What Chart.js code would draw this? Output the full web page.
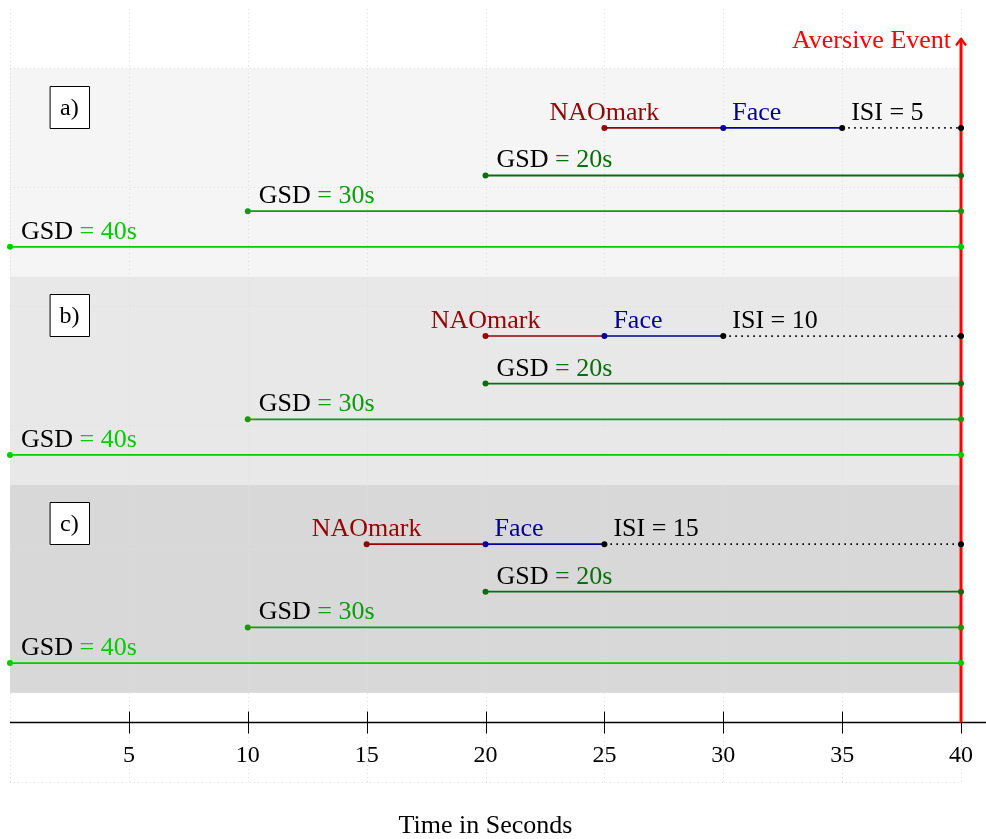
<!DOCTYPE html>
<html><head><meta charset="utf-8">
<script src="https://cdn.jsdelivr.net/npm/chart.js@4/dist/chart.umd.min.js"></script>
<style>html,body{margin:0;padding:0;background:#fff;overflow:hidden}</style>
</head><body>
<canvas id="c" width="986" height="839"></canvas>
<script>
// ---- data ----
const panelLabels = ['a)', 'b)', 'c)'];
const naoStart = [25, 20, 15];
const faceStart = [30, 25, 20];
const isiStart = [35, 30, 25];
const isiValues = [5, 10, 15];
const eventTime = 40;
const gsdValues = [20, 30, 40];
const gsdStart = [20, 10, 0];
const tickValues = [5, 10, 15, 20, 25, 30, 35, 40];
const axisTitle = 'Time in Seconds';
const eventLabel = 'Aversive Event';

// ---- layout / style ----
const bandBottoms = [21.25, 12.5, 3.75];
const BAND_H = 8.75;
const bandColors = ['#f5f5f5', '#e8e8e8', '#d8d8d8'];
const trialOffset = 6.25;
const gsdOffsets = [4.25, 2.75, 1.25];
const gsdColors = ['#0a6e0a', '#0c9c0c', '#00cc00'];
const naoColor = '#990000', faceColor = '#000099', isiColor = '#000000';
const AXIS_Y = 2.5, EVENT_TOP = 31.25;
const FONT = '"Liberation Serif", "Times New Roman", serif';
const TXT = '26px ' + FONT, NUM = '24px ' + FONT;

const datasets = [];
datasets.push({
  data: [{x: eventTime, y: AXIS_Y}, {x: eventTime, y: EVENT_TOP}],
  borderColor: '#ff0000', borderWidth: 3, pointRadius: 0, order: 100, clip: false
});
for (let p = 0; p < 3; p++) {
  const y = bandBottoms[p] + trialOffset;
  datasets.push({data: [{x: naoStart[p], y}, {x: faceStart[p], y}], borderColor: naoColor,
    backgroundColor: naoColor, pointBackgroundColor: naoColor, pointBorderWidth: 0,
    borderWidth: 1.6, pointRadius: [3, 0], order: 2, clip: false});
  datasets.push({data: [{x: faceStart[p], y}, {x: isiStart[p], y}], borderColor: faceColor,
    backgroundColor: faceColor, pointBackgroundColor: faceColor, pointBorderWidth: 0,
    borderWidth: 1.6, pointRadius: [3, 0], order: 1, clip: false});
  datasets.push({data: [{x: isiStart[p], y}, {x: eventTime, y}], borderColor: isiColor,
    backgroundColor: isiColor, pointBackgroundColor: isiColor, pointBorderWidth: 0,
    borderWidth: 1.8, borderDash: [1.6, 4.4], pointRadius: 3, order: 0, clip: false});
  for (let g = 0; g < gsdValues.length; g++) {
    const yg = bandBottoms[p] + gsdOffsets[g];
    datasets.push({data: [{x: gsdStart[g], y: yg}, {x: eventTime, y: yg}], borderColor: gsdColors[g],
      backgroundColor: gsdColors[g], pointBackgroundColor: gsdColors[g], pointBorderWidth: 0,
      borderWidth: 1.8, pointRadius: 3, order: 3, clip: false});
  }
}

function drawParts(ctx, parts, x, y) {
  let cx = x;
  for (const part of parts) {
    ctx.fillStyle = part.c;
    ctx.fillText(part.t, cx, y);
    cx += ctx.measureText(part.t).width;
  }
}

const deco = {
  id: 'deco',
  beforeDatasetsDraw(chart) {
    const ctx = chart.ctx, xs = chart.scales.x, ys = chart.scales.y;
    ctx.save();
    for (let p = 0; p < 3; p++) {
      const top = ys.getPixelForValue(bandBottoms[p] + BAND_H);
      const bot = ys.getPixelForValue(bandBottoms[p]);
      ctx.fillStyle = bandColors[p];
      ctx.fillRect(xs.getPixelForValue(0), top, xs.getPixelForValue(40) - xs.getPixelForValue(0), bot - top);
    }
    ctx.strokeStyle = '#dedede';
    ctx.lineWidth = 1;
    ctx.setLineDash([1, 3]);
    for (let v = 0; v <= 40; v += 5) {
      const px = Math.round(xs.getPixelForValue(v)) + 0.5;
      ctx.beginPath(); ctx.moveTo(px, ys.getPixelForValue(32.5)); ctx.lineTo(px, ys.getPixelForValue(0)); ctx.stroke();
    }
    for (let v = 0; v <= 30; v += 5) {
      const py = Math.round(ys.getPixelForValue(v)) + 0.5;
      ctx.beginPath(); ctx.moveTo(xs.getPixelForValue(0), py); ctx.lineTo(xs.getPixelForValue(40), py); ctx.stroke();
    }
    ctx.setLineDash([]);
    const ay = ys.getPixelForValue(AXIS_Y);
    ctx.strokeStyle = '#000';
    ctx.lineWidth = 1.5;
    ctx.beginPath(); ctx.moveTo(xs.getPixelForValue(0), ay); ctx.lineTo(chart.width, ay); ctx.stroke();
    ctx.lineWidth = 1;
    for (const t of tickValues) {
      const px = Math.round(xs.getPixelForValue(t)) + 0.5;
      ctx.beginPath(); ctx.moveTo(px, ay - 11); ctx.lineTo(px, ay + 11); ctx.stroke();
    }
    ctx.restore();
  },
  afterDatasetsDraw(chart) {
    const ctx = chart.ctx, xs = chart.scales.x, ys = chart.scales.y;
    ctx.save();
    const ex = xs.getPixelForValue(eventTime), ey = ys.getPixelForValue(EVENT_TOP);
    ctx.strokeStyle = '#ff0000'; ctx.lineWidth = 2.2; ctx.lineCap = 'round'; ctx.lineJoin = 'round';
    ctx.beginPath(); ctx.moveTo(ex - 4.5, ey + 6); ctx.lineTo(ex, ey); ctx.lineTo(ex + 4.5, ey + 6); ctx.stroke();
    ctx.font = TXT;
    ctx.textBaseline = 'alphabetic';
    ctx.fillStyle = '#ff0000'; ctx.textAlign = 'right';
    ctx.fillText(eventLabel, ex - 10, ey + 9);
    for (let p = 0; p < 3; p++) {
      ctx.font = TXT;
      const y = ys.getPixelForValue(bandBottoms[p] + trialOffset) - 8;
      ctx.textAlign = 'center'; ctx.fillStyle = naoColor;
      ctx.fillText('NAOmark', xs.getPixelForValue(naoStart[p]), y);
      ctx.textAlign = 'left'; ctx.fillStyle = faceColor;
      ctx.fillText('Face', xs.getPixelForValue(faceStart[p]) + 9, y);
      ctx.fillStyle = '#000';
      ctx.fillText('ISI = ' + isiValues[p], xs.getPixelForValue(isiStart[p]) + 9, y);
      for (let g = 0; g < gsdValues.length; g++) {
        const yg = ys.getPixelForValue(bandBottoms[p] + gsdOffsets[g]) - 8;
        drawParts(ctx, [{t: 'GSD ', c: '#000'}, {t: '= ' + gsdValues[g] + 's', c: gsdColors[g]}],
          xs.getPixelForValue(gsdStart[g]) + 11, yg);
      }
      const cx = xs.getPixelForValue(2.5), cy = ys.getPixelForValue(bandBottoms[p] + BAND_H - 1.6);
      const bx = Math.round(cx - 19.5) + 0.5, by = Math.round(cy - 21) + 0.5;
      ctx.fillStyle = '#fff'; ctx.fillRect(bx, by, 39, 42);
      ctx.strokeStyle = '#000'; ctx.lineWidth = 1; ctx.strokeRect(bx, by, 39, 42);
      ctx.fillStyle = '#000'; ctx.textAlign = 'center'; ctx.font = NUM;
      ctx.fillText(panelLabels[p], cx, cy + 8);
    }
    const ay = ys.getPixelForValue(AXIS_Y);
    ctx.font = NUM; ctx.fillStyle = '#000'; ctx.textAlign = 'center';
    for (const t of tickValues) ctx.fillText(String(t), xs.getPixelForValue(t), ay + 39);
    ctx.font = TXT;
    ctx.fillText(axisTitle, xs.getPixelForValue(20), ys.getPixelForValue(0) + 51);
    ctx.restore();
  }
};

new Chart(document.getElementById('c'), {
  type: 'line',
  data: {datasets},
  options: {
    responsive: false, animation: false, devicePixelRatio: 1,
    layout: {autoPadding: false, padding: {left: 10, right: 0, top: 9, bottom: 57}},
    plugins: {legend: {display: false}, tooltip: {enabled: false}},
    scales: {
      x: {type: 'linear', min: 0, max: 41.05, display: false},
      y: {type: 'linear', min: 0, max: 32.5, display: false}
    },
    elements: {line: {tension: 0}}
  },
  plugins: [deco]
});
</script>
</body></html>
